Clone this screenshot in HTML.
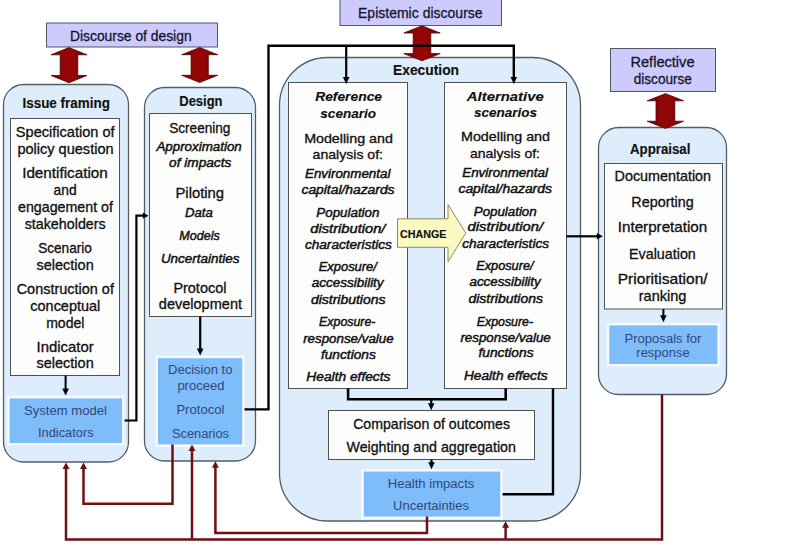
<!DOCTYPE html>
<html><head><meta charset="utf-8"><style>html,body{margin:0;padding:0;background:#fff;overflow:hidden}svg{display:block;font-family:"Liberation Sans",sans-serif}</style></head><body>
<svg width="800" height="550" viewBox="0 0 800 550">
<defs><linearGradient id="ag" x1="0" y1="0" x2="1" y2="0"><stop offset="0" stop-color="#600000"/><stop offset="0.35" stop-color="#920606"/><stop offset="0.65" stop-color="#920606"/><stop offset="1" stop-color="#600000"/></linearGradient></defs>
<rect x="0" y="0" width="800" height="550" fill="#ffffff" stroke="none" stroke-width="1"/>
<rect x="46.5" y="23" width="171.0" height="24" fill="#cdcbfe" stroke="#555566" stroke-width="1"/>
<rect x="340" y="-2" width="161.5" height="27.5" fill="#cdcbfe" stroke="#555566" stroke-width="1"/>
<rect x="610.5" y="48.5" width="105.0" height="43.0" fill="#cdcbfe" stroke="#555566" stroke-width="1"/>
<rect x="3.5" y="84.5" width="125.0" height="377.5" rx="20" ry="20" fill="#ddedfb" stroke="#545c66" stroke-width="1.3"/>
<rect x="144.5" y="87.5" width="111.0" height="373.5" rx="20" ry="20" fill="#ddedfb" stroke="#545c66" stroke-width="1.3"/>
<rect x="279.5" y="57.5" width="301.0" height="463.5" rx="48" ry="48" fill="#ddedfb" stroke="#545c66" stroke-width="1.3"/>
<rect x="598.5" y="127.5" width="128.0" height="267.0" rx="20" ry="20" fill="#ddedfb" stroke="#545c66" stroke-width="1.3"/>
<polygon points="69,47.6 87,54.800000000000004 77.8,54.800000000000004 77.8,75.5 87,75.5 69,82.7 51,75.5 60.2,75.5 60.2,54.800000000000004 51,54.800000000000004" fill="url(#ag)" stroke="#5a0000" stroke-width="0.8"/>
<polygon points="199.7,47.5 217.7,54.7 208.29999999999998,54.7 208.29999999999998,75.3 217.7,75.3 199.7,82.5 181.7,75.3 191.1,75.3 191.1,54.7 181.7,54.7" fill="url(#ag)" stroke="#5a0000" stroke-width="0.8"/>
<polygon points="422,25.8 440.2,33.0 430.8,33.0 430.8,53.599999999999994 440.2,53.599999999999994 422,60.8 403.8,53.599999999999994 413.2,53.599999999999994 413.2,33.0 403.8,33.0" fill="url(#ag)" stroke="#5a0000" stroke-width="0.8"/>
<polygon points="665.4,93.6 683.6,100.8 674.8,100.8 674.8,121.2 683.6,121.2 665.4,128.4 647.1999999999999,121.2 656.0,121.2 656.0,100.8 647.1999999999999,100.8" fill="url(#ag)" stroke="#5a0000" stroke-width="0.8"/>
<rect x="10.5" y="118.5" width="109.0" height="257.0" fill="#fdfdfd" stroke="#505050" stroke-width="1"/>
<rect x="149.5" y="113.5" width="102.0" height="203.0" fill="#fdfdfd" stroke="#505050" stroke-width="1"/>
<rect x="288.5" y="82.5" width="119.0" height="306.0" fill="#fdfdfd" stroke="#505050" stroke-width="1"/>
<rect x="444.5" y="82.5" width="122.0" height="306.0" fill="#fdfdfd" stroke="#505050" stroke-width="1"/>
<rect x="328.5" y="410.5" width="206.0" height="49.0" fill="#fdfdfd" stroke="#505050" stroke-width="1"/>
<rect x="604.5" y="163.5" width="118.0" height="145.5" fill="#fdfdfd" stroke="#505050" stroke-width="1"/>
<rect x="7.1" y="395.9" width="117.4" height="49.60000000000002" fill="#f6faff" stroke="none" stroke-width="1"/>
<rect x="9.6" y="398.4" width="112.4" height="44.60000000000002" fill="#7ebcfa" stroke="none" stroke-width="1"/>
<rect x="155.5" y="355.7" width="89.19999999999999" height="91.19999999999999" fill="#f6faff" stroke="none" stroke-width="1"/>
<rect x="158" y="358.2" width="84.19999999999999" height="86.19999999999999" fill="#7ebcfa" stroke="none" stroke-width="1"/>
<rect x="361.3" y="469.1" width="141.39999999999998" height="50.0" fill="#f6faff" stroke="none" stroke-width="1"/>
<rect x="363.8" y="471.6" width="136.39999999999998" height="45.0" fill="#7ebcfa" stroke="none" stroke-width="1"/>
<rect x="606.8" y="322.9" width="113.10000000000002" height="43.60000000000002" fill="#f6faff" stroke="none" stroke-width="1"/>
<rect x="609.3" y="325.4" width="108.10000000000002" height="38.60000000000002" fill="#7ebcfa" stroke="none" stroke-width="1"/>
<polygon points="397.5,218.8 448,218.8 448,204.5 465.8,233 448,261.8 448,247.3 397.5,247.3" fill="#fafac0" stroke="#8a8a70" stroke-width="1"/>
<polyline points="65.6,375.5 65.6,390" fill="none" stroke="#000000" stroke-width="2" />
<polygon points="65.6,395.5 62.3,388.5 68.89999999999999,388.5" fill="#000000" stroke="none" stroke-width="1"/>
<polyline points="200.2,316.5 200.2,350" fill="none" stroke="#000000" stroke-width="2.2" />
<polygon points="200.2,355.4 196.89999999999998,348.4 203.5,348.4" fill="#000000" stroke="none" stroke-width="1"/>
<polyline points="124.5,420.5 136.4,420.5 136.4,215.7 143,215.7" fill="none" stroke="#000000" stroke-width="2.2" stroke-linejoin="miter"/>
<polygon points="148.6,215.7 142.79999999999998,212.6 142.79999999999998,218.79999999999998" fill="#000000" stroke="none" stroke-width="1"/>
<polyline points="244.5,409.4 268.5,409.4 268.5,45.7 513.8,45.7 513.8,78" fill="none" stroke="#000000" stroke-width="2.4" />
<polygon points="513.8,84 510.49999999999994,77 517.0999999999999,77" fill="#000000" stroke="none" stroke-width="1"/>
<polyline points="346.2,45.7 346.2,78" fill="none" stroke="#000000" stroke-width="2.2" />
<polygon points="346.2,84 342.9,77 349.5,77" fill="#000000" stroke="none" stroke-width="1"/>
<polyline points="348.1,388.5 348.1,399.2 505.7,399.2 505.7,388.5" fill="none" stroke="#000000" stroke-width="2.6" />
<polyline points="431.2,399 431.2,405" fill="none" stroke="#000000" stroke-width="2.2" />
<polygon points="431.2,410.3 427.9,403.3 434.5,403.3" fill="#000000" stroke="none" stroke-width="1"/>
<polyline points="431.5,459.5 431.5,464" fill="none" stroke="#000000" stroke-width="2.2" />
<polygon points="431.5,469.2 428.2,462.2 434.8,462.2" fill="#000000" stroke="none" stroke-width="1"/>
<polyline points="553,388.5 553,494.3 502.6,494.3" fill="none" stroke="#000000" stroke-width="2.4" />
<polyline points="566.5,236.3 597,236.3" fill="none" stroke="#000000" stroke-width="2.2" />
<polygon points="602.8,236.3 596.8,233.10000000000002 596.8,239.5" fill="#000000" stroke="none" stroke-width="1"/>
<polyline points="663.4,309 663.4,316" fill="none" stroke="#000000" stroke-width="2" />
<polygon points="663.4,322.2 660.1,315.2 666.6999999999999,315.2" fill="#000000" stroke="none" stroke-width="1"/>
<polyline points="172.5,444.4 172.5,503.8 83.5,503.8 83.5,468" fill="none" stroke="#6e1016" stroke-width="2.5" />
<polygon points="83.5,462.5 80.0,469.0 87.0,469.0" fill="#6e1016" stroke="none" stroke-width="1"/>
<polyline points="662,394.5 662,539.5 66,539.5 66,468" fill="none" stroke="#6e1016" stroke-width="2.5" />
<polygon points="66,462.5 62.5,469.0 69.5,469.0" fill="#6e1016" stroke="none" stroke-width="1"/>
<polyline points="192,539.5 192,450" fill="none" stroke="#6e1016" stroke-width="2.5" />
<polygon points="192,444.4 188.5,450.9 195.5,450.9" fill="#6e1016" stroke="none" stroke-width="1"/>
<polyline points="427,516.6 427,533 215.4,533 215.4,467" fill="none" stroke="#6e1016" stroke-width="2.5" />
<polygon points="215.4,461.2 211.9,467.7 218.9,467.7" fill="#6e1016" stroke="none" stroke-width="1"/>
<polyline points="505.6,539.5 505.6,527" fill="none" stroke="#6e1016" stroke-width="2.5" />
<polygon points="505.6,521.2 502.1,527.7 509.1,527.7" fill="#6e1016" stroke="none" stroke-width="1"/>
<text x="130.8" y="40.9" text-anchor="middle" textLength="121.6" lengthAdjust="spacingAndGlyphs" font-family="Liberation Sans" font-size="14.5" font-weight="normal" font-style="normal" fill="#151530" stroke="#151530" stroke-width="0.3">Discourse of design</text>
<text x="420.3" y="18.3" text-anchor="middle" textLength="124.6" lengthAdjust="spacingAndGlyphs" font-family="Liberation Sans" font-size="14.5" font-weight="normal" font-style="normal" fill="#151530" stroke="#151530" stroke-width="0.3">Epistemic discourse</text>
<text x="662.5" y="67.0" text-anchor="middle" textLength="64.1" lengthAdjust="spacingAndGlyphs" font-family="Liberation Sans" font-size="14.5" font-weight="normal" font-style="normal" fill="#151530" stroke="#151530" stroke-width="0.3">Reflective</text>
<text x="662.8" y="83.9" text-anchor="middle" textLength="58.1" lengthAdjust="spacingAndGlyphs" font-family="Liberation Sans" font-size="14.5" font-weight="normal" font-style="normal" fill="#151530" stroke="#151530" stroke-width="0.3">discourse</text>
<text x="66.2" y="108.3" text-anchor="middle" textLength="87.5" lengthAdjust="spacingAndGlyphs" font-family="Liberation Sans" font-size="14" font-weight="bold" font-style="normal" fill="#111111" stroke="#111111" stroke-width="0.15">Issue framing</text>
<text x="200.9" y="106.2" text-anchor="middle" textLength="43.2" lengthAdjust="spacingAndGlyphs" font-family="Liberation Sans" font-size="14" font-weight="bold" font-style="normal" fill="#111111" stroke="#111111" stroke-width="0.15">Design</text>
<text x="426.0" y="74.8" text-anchor="middle" textLength="66.0" lengthAdjust="spacingAndGlyphs" font-family="Liberation Sans" font-size="14" font-weight="bold" font-style="normal" fill="#111111" stroke="#111111" stroke-width="0.15">Execution</text>
<text x="660.2" y="153.7" text-anchor="middle" textLength="60.4" lengthAdjust="spacingAndGlyphs" font-family="Liberation Sans" font-size="14" font-weight="bold" font-style="normal" fill="#111111" stroke="#111111" stroke-width="0.15">Appraisal</text>
<text x="65.2" y="136.7" text-anchor="middle" textLength="98.7" lengthAdjust="spacingAndGlyphs" font-family="Liberation Sans" font-size="14.4" font-weight="normal" font-style="normal" fill="#111111" stroke="#111111" stroke-width="0.32">Specification of</text>
<text x="65.5" y="153.9" text-anchor="middle" textLength="96.2" lengthAdjust="spacingAndGlyphs" font-family="Liberation Sans" font-size="14.4" font-weight="normal" font-style="normal" fill="#111111" stroke="#111111" stroke-width="0.32">policy question</text>
<text x="65.0" y="177.5" text-anchor="middle" textLength="85.7" lengthAdjust="spacingAndGlyphs" font-family="Liberation Sans" font-size="14.4" font-weight="normal" font-style="normal" fill="#111111" stroke="#111111" stroke-width="0.32">Identification</text>
<text x="65.1" y="194.6" text-anchor="middle" textLength="23.0" lengthAdjust="spacingAndGlyphs" font-family="Liberation Sans" font-size="14.4" font-weight="normal" font-style="normal" fill="#111111" stroke="#111111" stroke-width="0.32">and</text>
<text x="65.5" y="212" text-anchor="middle" textLength="95.0" lengthAdjust="spacingAndGlyphs" font-family="Liberation Sans" font-size="14.4" font-weight="normal" font-style="normal" fill="#111111" stroke="#111111" stroke-width="0.32">engagement of</text>
<text x="65.2" y="228.7" text-anchor="middle" textLength="81.1" lengthAdjust="spacingAndGlyphs" font-family="Liberation Sans" font-size="14.4" font-weight="normal" font-style="normal" fill="#111111" stroke="#111111" stroke-width="0.32">stakeholders</text>
<text x="65.0" y="252.7" text-anchor="middle" textLength="53.5" lengthAdjust="spacingAndGlyphs" font-family="Liberation Sans" font-size="14.4" font-weight="normal" font-style="normal" fill="#111111" stroke="#111111" stroke-width="0.32">Scenario</text>
<text x="65.1" y="269.8" text-anchor="middle" textLength="57.2" lengthAdjust="spacingAndGlyphs" font-family="Liberation Sans" font-size="14.4" font-weight="normal" font-style="normal" fill="#111111" stroke="#111111" stroke-width="0.32">selection</text>
<text x="65.3" y="293.5" text-anchor="middle" textLength="97.3" lengthAdjust="spacingAndGlyphs" font-family="Liberation Sans" font-size="14.4" font-weight="normal" font-style="normal" fill="#111111" stroke="#111111" stroke-width="0.32">Construction of</text>
<text x="65.3" y="310.9" text-anchor="middle" textLength="69.9" lengthAdjust="spacingAndGlyphs" font-family="Liberation Sans" font-size="14.4" font-weight="normal" font-style="normal" fill="#111111" stroke="#111111" stroke-width="0.32">conceptual</text>
<text x="65.3" y="327.8" text-anchor="middle" textLength="38.3" lengthAdjust="spacingAndGlyphs" font-family="Liberation Sans" font-size="14.4" font-weight="normal" font-style="normal" fill="#111111" stroke="#111111" stroke-width="0.32">model</text>
<text x="65.1" y="351.5" text-anchor="middle" textLength="57.2" lengthAdjust="spacingAndGlyphs" font-family="Liberation Sans" font-size="14.4" font-weight="normal" font-style="normal" fill="#111111" stroke="#111111" stroke-width="0.32">Indicator</text>
<text x="65.1" y="368" text-anchor="middle" textLength="57.2" lengthAdjust="spacingAndGlyphs" font-family="Liberation Sans" font-size="14.4" font-weight="normal" font-style="normal" fill="#111111" stroke="#111111" stroke-width="0.32">selection</text>
<text x="199.8" y="132.6" text-anchor="middle" textLength="61.3" lengthAdjust="spacingAndGlyphs" font-family="Liberation Sans" font-size="14.4" font-weight="normal" font-style="normal" fill="#111111" stroke="#111111" stroke-width="0.32">Screening</text>
<text x="199.1" y="151.4" text-anchor="middle" textLength="85.4" lengthAdjust="spacingAndGlyphs" font-family="Liberation Sans" font-size="12.2" font-weight="normal" font-style="italic" fill="#111111" stroke="#111111" stroke-width="0.45">Approximation</text>
<text x="200.2" y="166.5" text-anchor="middle" textLength="62.2" lengthAdjust="spacingAndGlyphs" font-family="Liberation Sans" font-size="12.2" font-weight="normal" font-style="italic" fill="#111111" stroke="#111111" stroke-width="0.45">of impacts</text>
<text x="199.8" y="197.6" text-anchor="middle" textLength="48.7" lengthAdjust="spacingAndGlyphs" font-family="Liberation Sans" font-size="14.4" font-weight="normal" font-style="normal" fill="#111111" stroke="#111111" stroke-width="0.32">Piloting</text>
<text x="198.9" y="216.7" text-anchor="middle" textLength="27.7" lengthAdjust="spacingAndGlyphs" font-family="Liberation Sans" font-size="12.2" font-weight="normal" font-style="italic" fill="#111111" stroke="#111111" stroke-width="0.45">Data</text>
<text x="199.5" y="239.7" text-anchor="middle" textLength="40.4" lengthAdjust="spacingAndGlyphs" font-family="Liberation Sans" font-size="12.2" font-weight="normal" font-style="italic" fill="#111111" stroke="#111111" stroke-width="0.45">Models</text>
<text x="200.2" y="262.8" text-anchor="middle" textLength="78.6" lengthAdjust="spacingAndGlyphs" font-family="Liberation Sans" font-size="12.2" font-weight="normal" font-style="italic" fill="#111111" stroke="#111111" stroke-width="0.45">Uncertainties</text>
<text x="199.9" y="292.5" text-anchor="middle" textLength="53.0" lengthAdjust="spacingAndGlyphs" font-family="Liberation Sans" font-size="14.4" font-weight="normal" font-style="normal" fill="#111111" stroke="#111111" stroke-width="0.32">Protocol</text>
<text x="200.4" y="309.4" text-anchor="middle" textLength="83.2" lengthAdjust="spacingAndGlyphs" font-family="Liberation Sans" font-size="14.4" font-weight="normal" font-style="normal" fill="#111111" stroke="#111111" stroke-width="0.32">development</text>
<text x="348.6" y="100.7" text-anchor="middle" textLength="66.9" lengthAdjust="spacingAndGlyphs" font-family="Liberation Sans" font-size="13" font-weight="bold" font-style="italic" fill="#111111" stroke="#111111" stroke-width="0.15">Reference</text>
<text x="348.2" y="118" text-anchor="middle" textLength="55.8" lengthAdjust="spacingAndGlyphs" font-family="Liberation Sans" font-size="13" font-weight="bold" font-style="italic" fill="#111111" stroke="#111111" stroke-width="0.15">scenario</text>
<text x="348.5" y="142.5" text-anchor="middle" textLength="88.7" lengthAdjust="spacingAndGlyphs" font-family="Liberation Sans" font-size="13" font-weight="normal" font-style="normal" fill="#111111" stroke="#111111" stroke-width="0.32">Modelling and</text>
<text x="347.8" y="159.2" text-anchor="middle" textLength="70.4" lengthAdjust="spacingAndGlyphs" font-family="Liberation Sans" font-size="13" font-weight="normal" font-style="normal" fill="#111111" stroke="#111111" stroke-width="0.32">analysis of:</text>
<text x="347.7" y="178" text-anchor="middle" textLength="85.4" lengthAdjust="spacingAndGlyphs" font-family="Liberation Sans" font-size="12" font-weight="normal" font-style="italic" fill="#111111" stroke="#111111" stroke-width="0.45">Environmental</text>
<text x="348.0" y="193.7" text-anchor="middle" textLength="93.0" lengthAdjust="spacingAndGlyphs" font-family="Liberation Sans" font-size="12" font-weight="normal" font-style="italic" fill="#111111" stroke="#111111" stroke-width="0.45">capital/hazards</text>
<text x="347.9" y="216.7" text-anchor="middle" textLength="63.1" lengthAdjust="spacingAndGlyphs" font-family="Liberation Sans" font-size="12" font-weight="normal" font-style="italic" fill="#111111" stroke="#111111" stroke-width="0.45">Population</text>
<text x="347.9" y="232.7" text-anchor="middle" textLength="75.1" lengthAdjust="spacingAndGlyphs" font-family="Liberation Sans" font-size="12" font-weight="normal" font-style="italic" fill="#111111" stroke="#111111" stroke-width="0.45">distribution/</text>
<text x="348.4" y="248.7" text-anchor="middle" textLength="86.9" lengthAdjust="spacingAndGlyphs" font-family="Liberation Sans" font-size="12" font-weight="normal" font-style="italic" fill="#111111" stroke="#111111" stroke-width="0.45">characteristics</text>
<text x="347.8" y="271.3" text-anchor="middle" textLength="58.2" lengthAdjust="spacingAndGlyphs" font-family="Liberation Sans" font-size="12" font-weight="normal" font-style="italic" fill="#111111" stroke="#111111" stroke-width="0.45">Exposure/</text>
<text x="347.7" y="286.9" text-anchor="middle" textLength="71.8" lengthAdjust="spacingAndGlyphs" font-family="Liberation Sans" font-size="12" font-weight="normal" font-style="italic" fill="#111111" stroke="#111111" stroke-width="0.45">accessibility</text>
<text x="348.2" y="303.6" text-anchor="middle" textLength="74.6" lengthAdjust="spacingAndGlyphs" font-family="Liberation Sans" font-size="12" font-weight="normal" font-style="italic" fill="#111111" stroke="#111111" stroke-width="0.45">distributions</text>
<text x="347.3" y="326.4" text-anchor="middle" textLength="56.4" lengthAdjust="spacingAndGlyphs" font-family="Liberation Sans" font-size="12" font-weight="normal" font-style="italic" fill="#111111" stroke="#111111" stroke-width="0.45">Exposure-</text>
<text x="348.4" y="342.7" text-anchor="middle" textLength="90.5" lengthAdjust="spacingAndGlyphs" font-family="Liberation Sans" font-size="12" font-weight="normal" font-style="italic" fill="#111111" stroke="#111111" stroke-width="0.45">response/value</text>
<text x="348.4" y="358.7" text-anchor="middle" textLength="54.9" lengthAdjust="spacingAndGlyphs" font-family="Liberation Sans" font-size="12" font-weight="normal" font-style="italic" fill="#111111" stroke="#111111" stroke-width="0.45">functions</text>
<text x="348.4" y="380.9" text-anchor="middle" textLength="84.1" lengthAdjust="spacingAndGlyphs" font-family="Liberation Sans" font-size="12" font-weight="normal" font-style="italic" fill="#111111" stroke="#111111" stroke-width="0.45">Health effects</text>
<text x="505.3" y="100.7" text-anchor="middle" textLength="77.0" lengthAdjust="spacingAndGlyphs" font-family="Liberation Sans" font-size="13" font-weight="bold" font-style="italic" fill="#111111" stroke="#111111" stroke-width="0.15">Alternative</text>
<text x="505.5" y="116.8" text-anchor="middle" textLength="62.8" lengthAdjust="spacingAndGlyphs" font-family="Liberation Sans" font-size="13" font-weight="bold" font-style="italic" fill="#111111" stroke="#111111" stroke-width="0.15">scenarios</text>
<text x="505.5" y="141" text-anchor="middle" textLength="89.0" lengthAdjust="spacingAndGlyphs" font-family="Liberation Sans" font-size="13" font-weight="normal" font-style="normal" fill="#111111" stroke="#111111" stroke-width="0.32">Modelling and</text>
<text x="505.0" y="158.2" text-anchor="middle" textLength="70.0" lengthAdjust="spacingAndGlyphs" font-family="Liberation Sans" font-size="13" font-weight="normal" font-style="normal" fill="#111111" stroke="#111111" stroke-width="0.32">analysis of:</text>
<text x="505.1" y="177" text-anchor="middle" textLength="85.8" lengthAdjust="spacingAndGlyphs" font-family="Liberation Sans" font-size="12" font-weight="normal" font-style="italic" fill="#111111" stroke="#111111" stroke-width="0.45">Environmental</text>
<text x="505.2" y="192.7" text-anchor="middle" textLength="93.5" lengthAdjust="spacingAndGlyphs" font-family="Liberation Sans" font-size="12" font-weight="normal" font-style="italic" fill="#111111" stroke="#111111" stroke-width="0.45">capital/hazards</text>
<text x="505.2" y="216.4" text-anchor="middle" textLength="62.9" lengthAdjust="spacingAndGlyphs" font-family="Liberation Sans" font-size="12" font-weight="normal" font-style="italic" fill="#111111" stroke="#111111" stroke-width="0.45">Population</text>
<text x="505.3" y="231.3" text-anchor="middle" textLength="75.4" lengthAdjust="spacingAndGlyphs" font-family="Liberation Sans" font-size="12" font-weight="normal" font-style="italic" fill="#111111" stroke="#111111" stroke-width="0.45">distribution/</text>
<text x="505.6" y="247.6" text-anchor="middle" textLength="86.8" lengthAdjust="spacingAndGlyphs" font-family="Liberation Sans" font-size="12" font-weight="normal" font-style="italic" fill="#111111" stroke="#111111" stroke-width="0.45">characteristics</text>
<text x="504.9" y="270" text-anchor="middle" textLength="57.3" lengthAdjust="spacingAndGlyphs" font-family="Liberation Sans" font-size="12" font-weight="normal" font-style="italic" fill="#111111" stroke="#111111" stroke-width="0.45">Exposure/</text>
<text x="505.1" y="285.5" text-anchor="middle" textLength="71.2" lengthAdjust="spacingAndGlyphs" font-family="Liberation Sans" font-size="12" font-weight="normal" font-style="italic" fill="#111111" stroke="#111111" stroke-width="0.45">accessibility</text>
<text x="505.7" y="302.7" text-anchor="middle" textLength="74.6" lengthAdjust="spacingAndGlyphs" font-family="Liberation Sans" font-size="12" font-weight="normal" font-style="italic" fill="#111111" stroke="#111111" stroke-width="0.45">distributions</text>
<text x="504.9" y="325.5" text-anchor="middle" textLength="56.3" lengthAdjust="spacingAndGlyphs" font-family="Liberation Sans" font-size="12" font-weight="normal" font-style="italic" fill="#111111" stroke="#111111" stroke-width="0.45">Exposure-</text>
<text x="505.6" y="341.8" text-anchor="middle" textLength="90.3" lengthAdjust="spacingAndGlyphs" font-family="Liberation Sans" font-size="12" font-weight="normal" font-style="italic" fill="#111111" stroke="#111111" stroke-width="0.45">response/value</text>
<text x="506.0" y="357.3" text-anchor="middle" textLength="55.0" lengthAdjust="spacingAndGlyphs" font-family="Liberation Sans" font-size="12" font-weight="normal" font-style="italic" fill="#111111" stroke="#111111" stroke-width="0.45">functions</text>
<text x="505.8" y="380.4" text-anchor="middle" textLength="83.6" lengthAdjust="spacingAndGlyphs" font-family="Liberation Sans" font-size="12" font-weight="normal" font-style="italic" fill="#111111" stroke="#111111" stroke-width="0.45">Health effects</text>
<text x="662.8" y="181.4" text-anchor="middle" textLength="96.5" lengthAdjust="spacingAndGlyphs" font-family="Liberation Sans" font-size="14.4" font-weight="normal" font-style="normal" fill="#111111" stroke="#111111" stroke-width="0.32">Documentation</text>
<text x="662.5" y="206.8" text-anchor="middle" textLength="62.3" lengthAdjust="spacingAndGlyphs" font-family="Liberation Sans" font-size="14.4" font-weight="normal" font-style="normal" fill="#111111" stroke="#111111" stroke-width="0.32">Reporting</text>
<text x="662.5" y="232.3" text-anchor="middle" textLength="89.5" lengthAdjust="spacingAndGlyphs" font-family="Liberation Sans" font-size="14.4" font-weight="normal" font-style="normal" fill="#111111" stroke="#111111" stroke-width="0.32">Interpretation</text>
<text x="662.4" y="258.8" text-anchor="middle" textLength="66.8" lengthAdjust="spacingAndGlyphs" font-family="Liberation Sans" font-size="14.4" font-weight="normal" font-style="normal" fill="#111111" stroke="#111111" stroke-width="0.32">Evaluation</text>
<text x="662.7" y="284.1" text-anchor="middle" textLength="89.9" lengthAdjust="spacingAndGlyphs" font-family="Liberation Sans" font-size="14.4" font-weight="normal" font-style="normal" fill="#111111" stroke="#111111" stroke-width="0.32">Prioritisation/</text>
<text x="662.6" y="300.8" text-anchor="middle" textLength="47.7" lengthAdjust="spacingAndGlyphs" font-family="Liberation Sans" font-size="14.4" font-weight="normal" font-style="normal" fill="#111111" stroke="#111111" stroke-width="0.32">ranking</text>
<text x="431.6" y="428.6" text-anchor="middle" textLength="156.8" lengthAdjust="spacingAndGlyphs" font-family="Liberation Sans" font-size="14.4" font-weight="normal" font-style="normal" fill="#111111" stroke="#111111" stroke-width="0.32">Comparison of outcomes</text>
<text x="431.2" y="452" text-anchor="middle" textLength="169.4" lengthAdjust="spacingAndGlyphs" font-family="Liberation Sans" font-size="14.4" font-weight="normal" font-style="normal" fill="#111111" stroke="#111111" stroke-width="0.32">Weighting and aggregation</text>
<text x="423.2" y="237.5" text-anchor="middle" textLength="46.5" lengthAdjust="spacingAndGlyphs" font-family="Liberation Sans" font-size="11" font-weight="bold" font-style="normal" fill="#111111" stroke="#111111" stroke-width="0.15">CHANGE</text>
<text x="65.5" y="414.5" text-anchor="middle" textLength="83.0" lengthAdjust="spacingAndGlyphs" font-family="Liberation Sans" font-size="12" font-weight="normal" font-style="normal" fill="#30487a" stroke="#30487a" stroke-width="0.0">System model</text>
<text x="65.8" y="436.9" text-anchor="middle" textLength="55.6" lengthAdjust="spacingAndGlyphs" font-family="Liberation Sans" font-size="12" font-weight="normal" font-style="normal" fill="#30487a" stroke="#30487a" stroke-width="0.0">Indicators</text>
<text x="200.2" y="374" text-anchor="middle" textLength="64.4" lengthAdjust="spacingAndGlyphs" font-family="Liberation Sans" font-size="12" font-weight="normal" font-style="normal" fill="#30487a" stroke="#30487a" stroke-width="0.0">Decision to</text>
<text x="200.9" y="390" text-anchor="middle" textLength="47.0" lengthAdjust="spacingAndGlyphs" font-family="Liberation Sans" font-size="12" font-weight="normal" font-style="normal" fill="#30487a" stroke="#30487a" stroke-width="0.0">proceed</text>
<text x="200.4" y="413.6" text-anchor="middle" textLength="48.0" lengthAdjust="spacingAndGlyphs" font-family="Liberation Sans" font-size="12" font-weight="normal" font-style="normal" fill="#30487a" stroke="#30487a" stroke-width="0.0">Protocol</text>
<text x="200.5" y="438.4" text-anchor="middle" textLength="57.0" lengthAdjust="spacingAndGlyphs" font-family="Liberation Sans" font-size="12" font-weight="normal" font-style="normal" fill="#30487a" stroke="#30487a" stroke-width="0.0">Scenarios</text>
<text x="431.1" y="488.4" text-anchor="middle" textLength="86.5" lengthAdjust="spacingAndGlyphs" font-family="Liberation Sans" font-size="12" font-weight="normal" font-style="normal" fill="#30487a" stroke="#30487a" stroke-width="0.0">Health impacts</text>
<text x="431.0" y="509.8" text-anchor="middle" textLength="76.0" lengthAdjust="spacingAndGlyphs" font-family="Liberation Sans" font-size="12" font-weight="normal" font-style="normal" fill="#30487a" stroke="#30487a" stroke-width="0.0">Uncertainties</text>
<text x="663.0" y="342.6" text-anchor="middle" textLength="76.9" lengthAdjust="spacingAndGlyphs" font-family="Liberation Sans" font-size="12" font-weight="normal" font-style="normal" fill="#30487a" stroke="#30487a" stroke-width="0.0">Proposals for</text>
<text x="663.0" y="357" text-anchor="middle" textLength="53.3" lengthAdjust="spacingAndGlyphs" font-family="Liberation Sans" font-size="12" font-weight="normal" font-style="normal" fill="#30487a" stroke="#30487a" stroke-width="0.0">response</text>
</svg>
</body></html>
